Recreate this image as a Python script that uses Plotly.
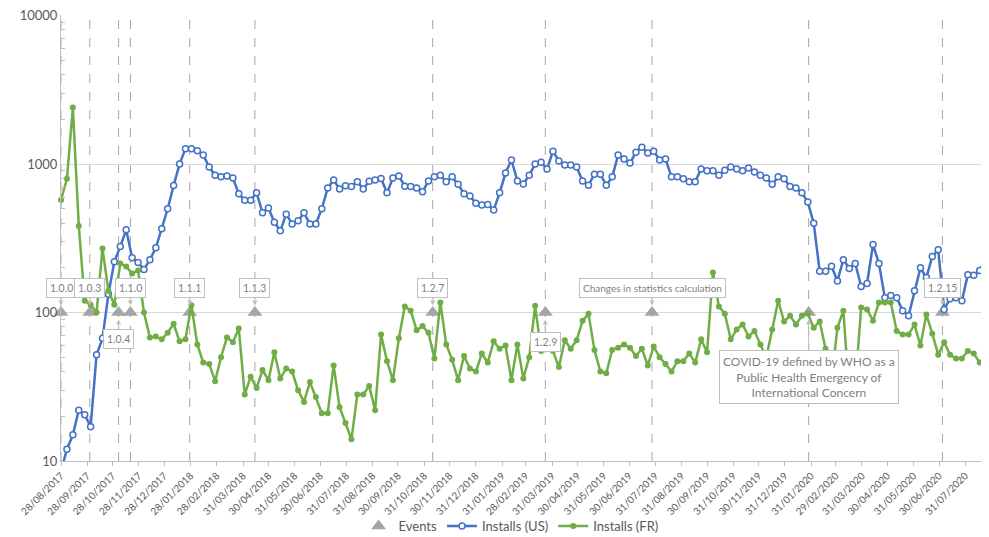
import numpy as np
import pandas as pd
import plotly.graph_objects as go

# ---------------- data ----------------
start_week = "2017-08-28"

installs_us = [
    8.5, 12, 15, 22, 20.5, 17, 52, 67, 133, 220,
    278, 361, 234, 217, 195, 227, 273, 367, 500, 716,
    1000, 1270, 1270, 1230, 1150, 955, 840, 820, 830, 805,
    630, 570, 570, 640, 470, 505, 405, 355, 460, 395,
    415, 470, 395, 395, 500, 690, 780, 680, 715, 705,
    760, 680, 765, 780, 800, 640, 805, 830, 710, 705,
    690, 650, 770, 820, 840, 760, 820, 730, 630, 610,
    545, 530, 535, 490, 640, 870, 1065, 770, 735, 840,
    1000, 1030, 925, 1220, 1050, 985, 985, 955, 770, 720,
    855, 855, 720, 820, 1150, 1080, 1015, 1200, 1300, 1185,
    1220, 1065, 1080, 820, 820, 795, 760, 760, 925, 900,
    900, 840, 910, 955, 925, 900, 940, 885, 840, 805,
    730, 820, 795, 705, 690, 640, 555, 400, 190, 190,
    205, 163, 227, 198, 214, 150, 157, 287, 214, 126,
    130, 126, 103, 95, 140, 200, 172, 238, 265, 105,
    124, 126, 120, 180, 178, 192, 232,
]

installs_fr = [
    573, 795, 2400, 383, 120, 113, 100, 270, 140, 113,
    214, 204, 183, 192, 100, 68, 69, 66, 73, 84,
    64, 66, 112, 61, 46, 45, 34.5, 50, 68, 63,
    78, 28, 37, 31, 41, 35, 54, 36, 42, 40,
    30, 25, 34, 27, 21, 21, 44, 23, 18, 14,
    28, 28, 32, 22, 71, 47, 35, 67, 110, 103,
    76, 81, 73, 49, 117, 61, 48, 35, 51, 42,
    40, 53, 46, 64, 57, 60, 35, 61, 36, 50,
    111, 55, 58, 55, 43, 65, 57, 65, 88, 98,
    56, 40, 39, 56, 58, 61, 58, 51, 57, 44,
    59, 50, 45, 40, 47, 47, 53, 46, 66, 54,
    186, 110, 98, 66, 77, 83, 69, 75, 61, 50,
    77, 120, 87, 95, 83, 95, 98, 79, 87, 57,
    35, 79, 103, 28, 32, 108, 105, 88, 117, 117,
    117, 75, 71, 71, 83, 60, 97, 72, 52, 63,
    52, 49, 49, 55, 53, 46, 45,
]

event_dates = [
    "2017-08-28", "2017-10-01", "2017-11-04", "2017-11-18", "2018-01-27",
    "2018-04-14", "2018-11-10", "2019-03-23", "2019-07-27", "2020-01-28",
    "2020-07-04",
]
event_labels = [
    "1.0.0", "1.0.3", "1.0.4", "1.1.0", "1.1.1", "1.1.3", "1.2.7", "1.2.9",
    "Changes in statistics calculation",
    "COVID-19 defined by WHO as a<br>Public Health Emergency of<br>International Concern",
    "1.2.15",
]
event_values = [100] * len(event_dates)

tick_labels = [
    "28/08/2017", "28/09/2017", "28/10/2017", "28/11/2017", "28/12/2017",
    "28/01/2018", "28/02/2018", "31/03/2018", "30/04/2018", "31/05/2018",
    "30/06/2018", "31/07/2018", "31/08/2018", "30/09/2018", "31/10/2018",
    "30/11/2018", "31/12/2018", "31/01/2019", "28/02/2019", "31/03/2019",
    "30/04/2019", "31/05/2019", "30/06/2019", "31/07/2019", "31/08/2019",
    "30/09/2019", "31/10/2019", "30/11/2019", "31/12/2019", "31/01/2020",
    "29/02/2020", "31/03/2020", "30/04/2020", "31/05/2020", "30/06/2020",
    "31/07/2020",
]

# ---------------- build ----------------
weeks = pd.date_range(start_week, periods=len(installs_us), freq="7D")
tick_vals = pd.to_datetime(tick_labels, format="%d/%m/%Y")

FONT = "Lato, Open Sans, sans-serif"
TXT = "#595959"
GRID = "#d9d9d9"
BLUE = "#4472C4"
GREEN = "#70AD47"
GREY = "#A5A5A5"

fig = go.Figure()

fig.add_trace(go.Scatter(
    x=pd.to_datetime(event_dates), y=event_values, mode="markers", name="Events",
    marker=dict(symbol="triangle-up", size=13, color=GREY),
    cliponaxis=False,
))
fig.add_trace(go.Scatter(
    x=weeks, y=installs_us, mode="lines+markers", name="Installs (US)",
    line=dict(color=BLUE, width=2.5),
    marker=dict(symbol="circle", size=6, color="white", line=dict(color=BLUE, width=1.5)),
))
fig.add_trace(go.Scatter(
    x=weeks, y=installs_fr, mode="lines+markers", name="Installs (FR)",
    line=dict(color=GREEN, width=2.5),
    marker=dict(symbol="circle", size=6, color=GREEN),
    cliponaxis=False,
))

# dashed event lines
for d in event_dates:
    fig.add_shape(type="line", xref="x", yref="paper", x0=d, x1=d, y0=0, y1=1,
                  line=dict(color="#a6a6a6", width=1, dash="dash"), layer="below")

# event callouts
below_offsets = {"1.0.4": 26, "1.2.9": 29}
for d, lab, v in zip(event_dates, event_labels, event_values):
    if lab.startswith("COVID"):
        ay, fs = 64, 12
    elif lab in below_offsets:
        ay, fs = below_offsets[lab], 10.5
    else:
        ay, fs = -25, 10 if len(lab) > 10 else 10.5
    fig.add_annotation(
        x=d, y=np.log10(v), xref="x", yref="y", text=lab,
        showarrow=True, ax=0, ay=ay, arrowhead=2, arrowsize=1, arrowwidth=1,
        arrowcolor="#bfbfbf", standoff=7,
        bgcolor="white", bordercolor="#bfbfbf", borderwidth=1, borderpad=3,
        font=dict(family=FONT, size=fs, color="#7f7f7f"), align="center",
    )

# page body has an 8px default margin, so the figure is sized/offset to compensate
fig.update_layout(
    template="none",
    width=981, height=529,
    margin=dict(l=53, r=0, t=7, b=76, autoexpand=False),
    paper_bgcolor="white", plot_bgcolor="white",
    font=dict(family=FONT, color=TXT),
    showlegend=True,
    legend=dict(orientation="h", x=0.485, xanchor="center", y=-0.146, yanchor="middle",
                font=dict(size=13, color=TXT), bgcolor="rgba(0,0,0,0)",
                itemwidth=30, tracegroupgap=0),
    xaxis=dict(
        type="date", range=["2017-08-28", "2020-08-28"],
        tickmode="array", tickvals=tick_vals, ticktext=tick_labels,
        tickangle=-45, tickfont=dict(size=10, color=TXT),
        ticks="outside", ticklen=4, tickcolor="#bfbfbf",
        showgrid=False, showline=True, linecolor="#bfbfbf", linewidth=1,
        zeroline=False, automargin=False, ticklabeloverflow="allow",
    ),
    yaxis=dict(
        type="log", range=[1, 4.004], dtick=1, tickformat="d",
        tickfont=dict(size=13, color=TXT),
        showgrid=True, gridcolor=GRID, gridwidth=1,
        showline=True, linecolor="#bfbfbf", linewidth=1,
        ticks="", zeroline=False, automargin=False, ticklabeloverflow="allow",
        minor=dict(dtick="D1", ticks="inside", ticklen=4, tickcolor="#bfbfbf", showgrid=False),
    ),
)

fig.write_html("out.html")
